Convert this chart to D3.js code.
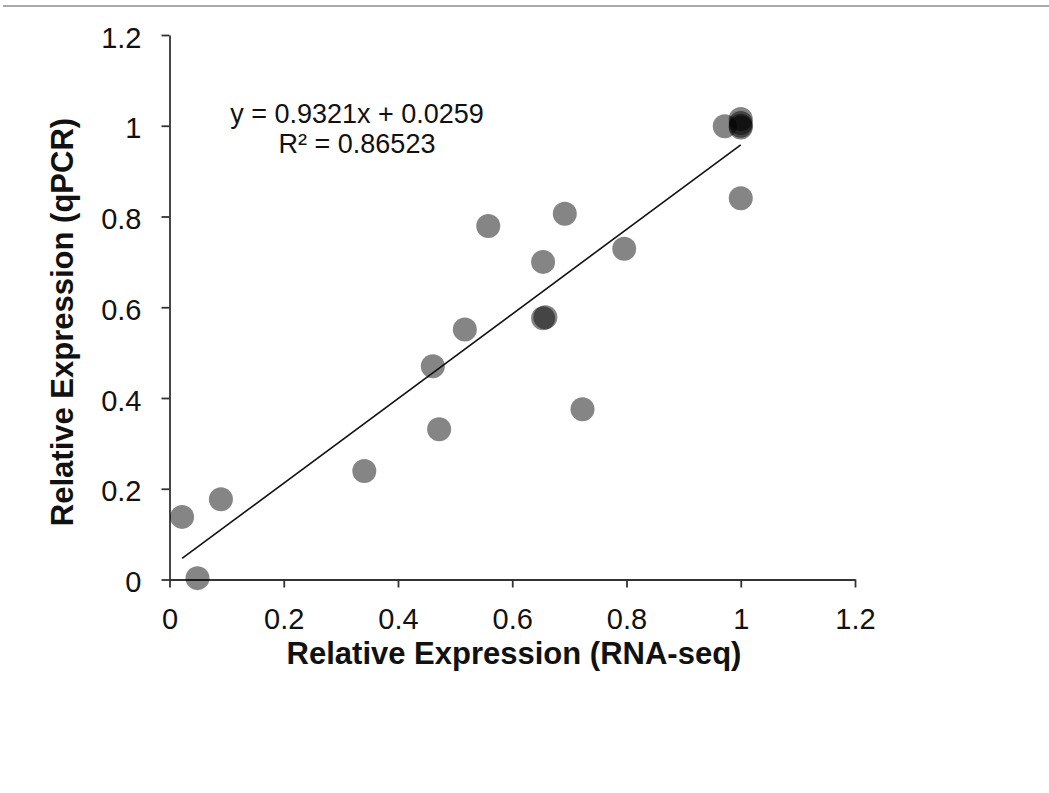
<!DOCTYPE html>
<html>
<head>
<meta charset="utf-8">
<script src="https://cdn.jsdelivr.net/npm/d3@7/dist/d3.min.js"></script>
<style>
  html, body { margin: 0; padding: 0; background: #fff; }
  svg { display: block; }
</style>
</head>
<body>
<script>
// Data
const rnaSeq = [0.022, 0.049, 0.090, 0.341, 0.461, 0.472, 0.517, 0.558, 0.654, 0.654, 0.658, 0.692, 0.723, 0.796, 0.972, 1.000, 1.000, 1.000, 1.000, 1.000];
const qpcr   = [0.138, 0.003, 0.177, 0.239, 0.470, 0.331, 0.551, 0.779, 0.700, 0.576, 0.578, 0.806, 0.375, 0.729, 0.999, 1.000, 1.015, 1.006, 0.996, 0.840];
const xTicks = [0, 0.2, 0.4, 0.6, 0.8, 1, 1.2];
const yTicks = [0, 0.2, 0.4, 0.6, 0.8, 1, 1.2];
const slope = 0.9321, intercept = 0.0259;
const eqLabel = "y = 0.9321x + 0.0259";
const r2Label = "R² = 0.86523";
const xTitle = "Relative Expression (RNA-seq)";
const yTitle = "Relative Expression (qPCR)";

const W = 1049, H = 793;
const svg = d3.select("body").append("svg").attr("width", W).attr("height", H);

// top rule
svg.append("rect").attr("x", 3).attr("y", 5).attr("width", W - 3).attr("height", 2).attr("fill", "#a9a9a9");

const x = d3.scaleLinear().domain([0, 1.2]).range([169.5, 855]);
const y = d3.scaleLinear().domain([0, 1.2]).range([579.5, 35]);

const fmt = d => d3.format("")(+d.toFixed(1));

const xAxis = svg.append("g").attr("transform", `translate(0,${y(0)})`)
  .call(d3.axisBottom(x).tickValues(xTicks).tickFormat(fmt).tickSize(8).tickSizeOuter(0).tickPadding(21));
const yAxis = svg.append("g").attr("transform", `translate(${x(0)},0)`)
  .call(d3.axisLeft(y).tickValues(yTicks).tickFormat(fmt).tickSize(8).tickSizeOuter(0).tickPadding(20));

[xAxis, yAxis].forEach(g => {
  g.select(".domain").attr("stroke", "#333").attr("stroke-width", 1.8);
  g.selectAll(".tick line").attr("stroke", "#333").attr("stroke-width", 1.8);
  g.selectAll(".tick text").attr("fill", "#111")
    .style("font-family", "'Liberation Sans', Arial, sans-serif").style("font-size", "29px");
});
yAxis.selectAll(".tick text").attr("dy", "0.42em");

// points
const pts = rnaSeq.map((v, i) => [v, qpcr[i]]);
svg.append("g").selectAll("circle").data(pts).join("circle")
  .attr("cx", d => x(d[0])).attr("cy", d => y(d[1])).attr("r", 12)
  .attr("fill", "#000").attr("fill-opacity", 0.48);

// trend line
const x0 = d3.min(rnaSeq), x1 = d3.max(rnaSeq);
svg.append("line")
  .attr("x1", x(x0)).attr("y1", y(slope * x0 + intercept))
  .attr("x2", x(x1)).attr("y2", y(slope * x1 + intercept))
  .attr("stroke", "#111").attr("stroke-width", 1.6);

// equation
const eq = svg.append("g").style("font-family", "'Liberation Sans', Arial, sans-serif").style("font-size", "27px").attr("fill", "#111");
eq.append("text").attr("x", 357).attr("y", 123).attr("text-anchor", "middle").text(eqLabel);
eq.append("text").attr("x", 357).attr("y", 153).attr("text-anchor", "middle").text(r2Label);

// axis titles
svg.append("text").attr("x", 514).attr("y", 664).attr("text-anchor", "middle")
  .style("font-family", "'Liberation Sans', Arial, sans-serif").style("font-size", "31px").style("font-weight", "bold")
  .attr("fill", "#111").text(xTitle);
svg.append("text").attr("transform", "translate(73,322) rotate(-90)").attr("text-anchor", "middle")
  .style("font-family", "'Liberation Sans', Arial, sans-serif").style("font-size", "31px").style("font-weight", "bold")
  .attr("fill", "#111").text(yTitle);
</script>
</body>
</html>
